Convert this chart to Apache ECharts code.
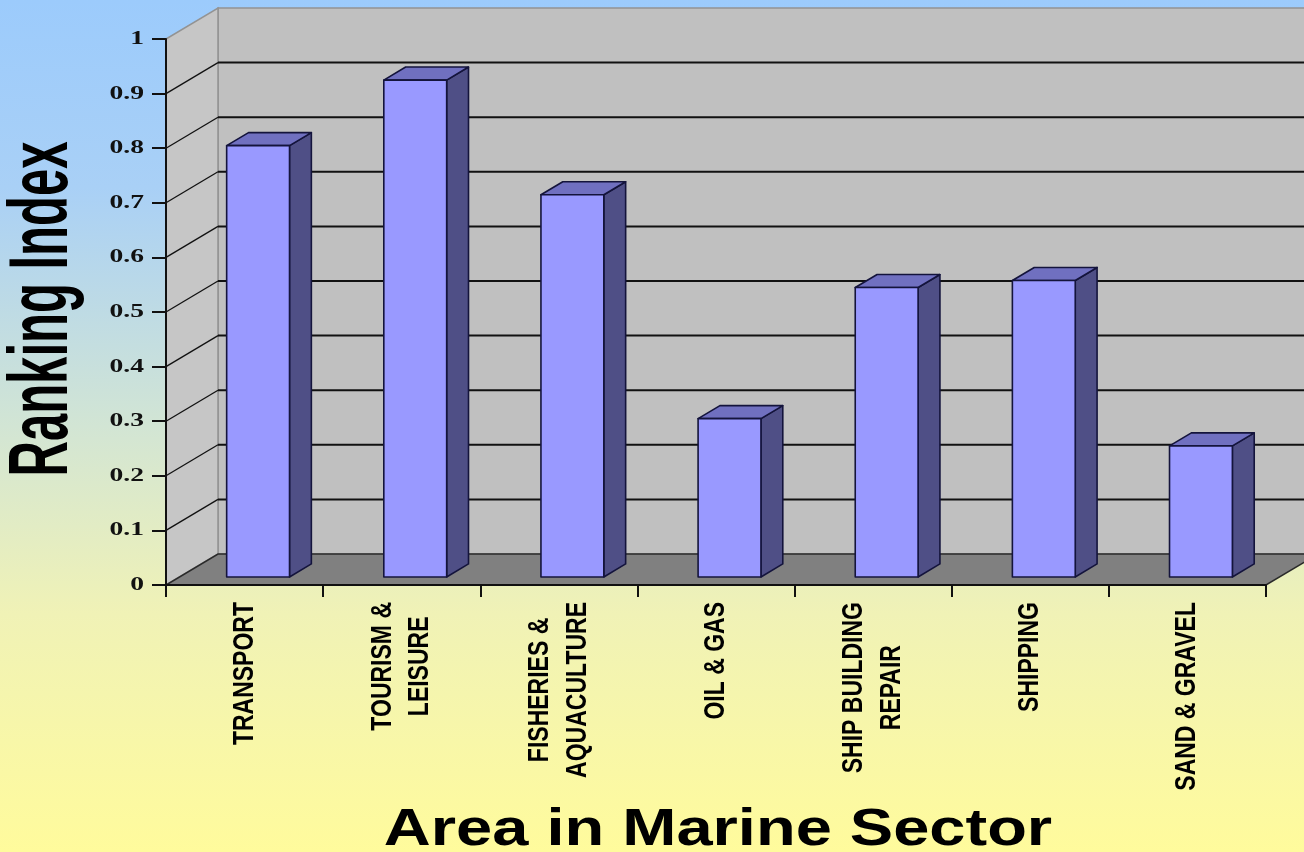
<!DOCTYPE html>
<html>
<head>
<meta charset="utf-8">
<script src="https://cdn.jsdelivr.net/npm/echarts@6/dist/echarts.min.js"></script>
<style>html,body{margin:0;padding:0;}#c{width:1304px;height:852px;}</style>
</head>
<body>
<div id="c"></div>
<script>
// ---- data ----
const categories = ['TRANSPORT', 'TOURISM &\nLEISURE', 'FISHERIES &\nAQUACULTURE', 'OIL & GAS', 'SHIP BUILDING\nREPAIR', 'SHIPPING', 'SAND & GRAVEL'];
const values = [0.79, 0.91, 0.70, 0.29, 0.53, 0.543, 0.24];
const yTickValues = [0, 0.1, 0.2, 0.3, 0.4, 0.5, 0.6, 0.7, 0.8, 0.9, 1];
const yAxisTitle = 'Ranking Index';
const xAxisTitle = 'Area in Marine Sector';

// ---- 3D look ----
const DX = 52, DY = -31;          // depth vector of the box
const BAR_FRONT = 0.26, BAR_DEPTH = 0.42, BAR_W = 0.4;
const LABEL_FS = 23, LABEL_FAMILY = '"Liberation Sans", Arial, sans-serif';

const mctx = document.createElement('canvas').getContext('2d');
function textLen(str) {
  mctx.font = 'bold ' + LABEL_FS + 'px ' + LABEL_FAMILY;
  return Math.max.apply(null, str.split('\n').map(s => mctx.measureText(s).width));
}
function edges(api) {
  const bw = api.size([1, 0])[0];
  const c0 = api.coord([0, 0]);
  const cN = api.coord([categories.length - 1, 0]);
  const top = api.coord([0, 1]);
  return { x0: c0[0] - bw / 2, x1: cN[0] + bw / 2, yb: c0[1], yt: top[1], bw: bw };
}

const chart = echarts.init(document.getElementById('c'));
chart.setOption({
  animation: false,
  backgroundColor: {
    type: 'linear', x: 0, y: 0, x2: 0, y2: 1,
    colorStops: [
      { offset: 0, color: '#9ccbfc' },
      { offset: 0.22, color: '#a9d0f6' },
      { offset: 0.5, color: '#d2e5d4' },
      { offset: 0.72, color: '#f0f2b6' },
      { offset: 1, color: '#fffb9c' }
    ]
  },
  grid: { left: 166, right: 38, top: 39, bottom: 267 },
  xAxis: {
    type: 'category', data: categories, boundaryGap: true, z: 10,
    axisLine: { show: true, lineStyle: { color: '#111', width: 2 } },
    axisTick: { show: true, length: 12, interval: 0, lineStyle: { color: '#111', width: 2 } },
    axisLabel: { show: false },
    splitLine: { show: false }
  },
  yAxis: {
    type: 'value', min: 0, max: 1, interval: 0.1, z: 10,
    axisLine: { show: true, lineStyle: { color: '#111', width: 2 } },
    axisTick: { show: true, length: 14, inside: false, lineStyle: { color: '#111', width: 2 } },
    axisLabel: { show: false },
    splitLine: { show: false }
  },
  graphic: [
    { type: 'text', x: 44, y: 309, rotation: Math.PI / 2, scaleY: 1.7,
      style: { text: yAxisTitle, fontSize: 49, fontWeight: 'bold', fontFamily: '"Liberation Sans", Arial, sans-serif', fill: '#000', align: 'center', verticalAlign: 'middle' } },
    { type: 'text', x: 718, y: 831, scaleX: 1.25,
      style: { text: xAxisTitle, fontSize: 52, fontWeight: 'bold', fontFamily: '"Liberation Sans", Arial, sans-serif', fill: '#000', align: 'center', verticalAlign: 'middle' } }
  ],
  series: [
    { // walls and floor
      type: 'custom', z: 1, silent: true,
      data: [[0, 0]],
      renderItem: function (params, api) {
        const e = edges(api);
        return { type: 'group', children: [
          { type: 'polygon', shape: { points: [[e.x0 + DX, e.yt + DY], [e.x1 + DX, e.yt + DY], [e.x1 + DX, e.yb + DY], [e.x0 + DX, e.yb + DY]] },
            style: { fill: '#c0c0c0', stroke: '#939393', lineWidth: 1.5 } },
          { type: 'polygon', shape: { points: [[e.x0, e.yb], [e.x0, e.yt], [e.x0 + DX, e.yt + DY], [e.x0 + DX, e.yb + DY]] },
            style: { fill: '#c6c6c6', stroke: '#939393', lineWidth: 1.5 } },
          { type: 'polygon', shape: { points: [[e.x0, e.yb], [e.x1, e.yb], [e.x1 + DX, e.yb + DY], [e.x0 + DX, e.yb + DY]] },
            style: { fill: '#808080', stroke: '#2a2a2a', lineWidth: 1.5 } }
        ] };
      }
    },
    { // gridlines on back and side walls
      type: 'custom', z: 2, silent: true,
      data: yTickValues.map(v => [0, v]),
      renderItem: function (params, api) {
        const v = api.value(1);
        if (v <= 0 || v >= 1) return null;
        const e = edges(api);
        const y = api.coord([0, v])[1];
        return { type: 'group', children: [
          { type: 'line', shape: { x1: e.x0 + DX, y1: y + DY, x2: e.x1 + DX, y2: y + DY }, style: { stroke: '#111', lineWidth: 2 } },
          { type: 'line', shape: { x1: e.x0, y1: y, x2: e.x0 + DX, y2: y + DY }, style: { stroke: '#111', lineWidth: 1.3 } }
        ] };
      }
    },
    { // 3D bars
      type: 'custom', z: 3,
      data: values.map((v, i) => [i, v]),
      renderItem: function (params, api) {
        const i = api.value(0), v = api.value(1);
        const bw = api.size([1, 0])[0];
        const base = api.coord([i, 0]);
        const top = api.coord([i, v]);
        const w = bw * BAR_W;
        const fx = DX * BAR_FRONT, fy = DY * BAR_FRONT;
        const ddx = DX * BAR_DEPTH, ddy = DY * BAR_DEPTH;
        const L = base[0] - w / 2 + fx, R = base[0] + w / 2 + fx;
        const T = top[1] + fy, B = base[1] + fy;
        const st = { stroke: '#14143c', lineWidth: 1.6, lineJoin: 'round' };
        return { type: 'group', children: [
          { type: 'polygon', shape: { points: [[R, T], [R + ddx, T + ddy], [R + ddx, B + ddy], [R, B]] }, style: Object.assign({ fill: '#4f4f86' }, st) },
          { type: 'polygon', shape: { points: [[L, T], [R, T], [R + ddx, T + ddy], [L + ddx, T + ddy]] }, style: Object.assign({ fill: '#7070c0' }, st) },
          { type: 'rect', shape: { x: L, y: T, width: R - L, height: B - T }, style: Object.assign({ fill: '#9999ff' }, st) }
        ] };
      }
    },
    { // value-axis tick labels (wide bold serif)
      type: 'custom', z: 4, silent: true,
      data: yTickValues.map(v => [0, v]),
      renderItem: function (params, api) {
        const v = api.value(1);
        const e = edges(api);
        const y = api.coord([0, v])[1];
        return { type: 'text', x: e.x0 - 22, y: y, scaleX: 1.45,
          style: { text: String(v), fontSize: 19, fontWeight: 'bold', fontFamily: '"Liberation Serif", "Times New Roman", serif', fill: '#111', align: 'right', verticalAlign: 'middle' } };
      }
    },
    { // category labels
      type: 'custom', z: 4, silent: true,
      data: categories.map((c, i) => [i, 0]),
      renderItem: function (params, api) {
        const i = api.value(0);
        const p = api.coord([i, 0]);
        const txt = categories[i];
        const len = textLen(txt);
        return { type: 'text', x: p[0], y: p[1] + 17 + len / 2, rotation: Math.PI / 2, scaleY: 1.25,
          style: { text: txt, fontSize: LABEL_FS, fontWeight: 'bold', fontFamily: LABEL_FAMILY, fill: '#000', align: 'center', verticalAlign: 'middle', lineHeight: 30 } };
      }
    }
  ]
});
</script>
</body>
</html>
